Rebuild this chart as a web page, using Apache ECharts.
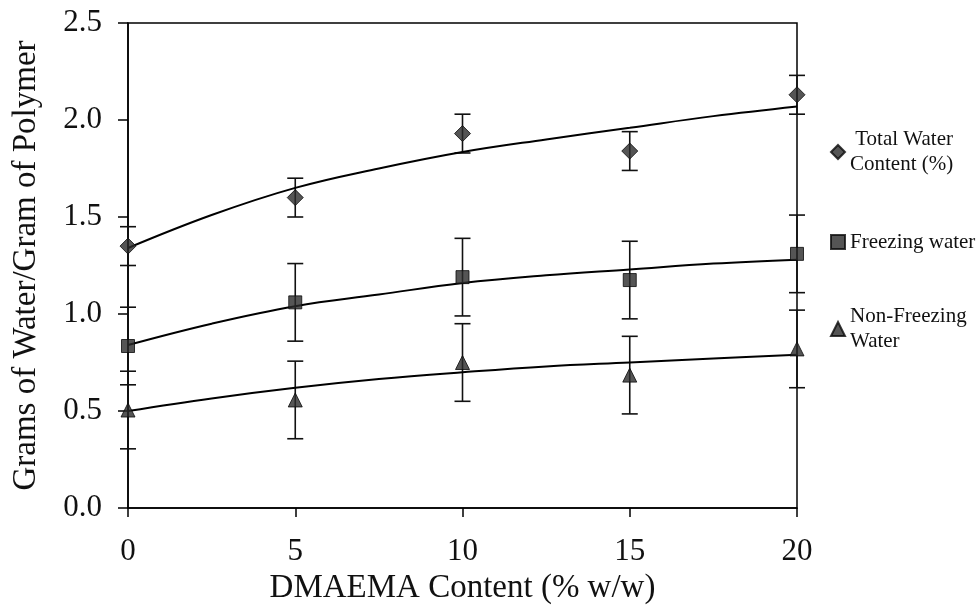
<!DOCTYPE html>
<html>
<head>
<meta charset="utf-8">
<script src="https://cdn.jsdelivr.net/npm/echarts@6/dist/echarts.min.js"></script>
<style>html,body{margin:0;padding:0;background:#fff}#c{width:979px;height:609px}</style>
</head>
<body>
<div id="c"></div>
<script>
// ---- data ----
const xValues = [0, 5, 10, 15, 20];
const totalWater = [1.35, 1.60, 1.93, 1.84, 2.13];
const totalErr = [0.1, 0.1, 0.1, 0.1, 0.1];
const freezingWater = [0.835, 1.06, 1.19, 1.175, 1.31];
const freezingErr = [0.2, 0.2, 0.2, 0.2, 0.2];
const nonFreezingWater = [0.505, 0.557, 0.75, 0.685, 0.82];
const nonFreezingErr = [0.2, 0.2, 0.2, 0.2, 0.2];

// trend lines
const fitX = [0, 2.5, 5, 7.5, 10, 12.5, 15, 17.5, 20];
const totalFit = [1.34, 1.51, 1.65, 1.75, 1.835, 1.90, 1.96, 2.02, 2.07];
const freezingFit = [0.84, 0.95, 1.04, 1.10, 1.16, 1.20, 1.23, 1.26, 1.28];
const nonFreezingFit = [0.50, 0.565, 0.62, 0.665, 0.70, 0.73, 0.75, 0.77, 0.79];

const yTicks = [0, 0.5, 1.0, 1.5, 2.0, 2.5];
const xTicks = [0, 5, 10, 15, 20];

const names = ['Total Water Content (%)', 'Freezing water', 'Non-Freezing Water'];
const legendLabels = [' Total Water\nContent (%)', 'Freezing water', 'Non-Freezing\nWater'];

const FONT = '"Liberation Serif", "DejaVu Serif", serif';
const pairs = (xs, ys) => xs.map((x, i) => [x, ys[i]]);
const errTriples = (xs, ys, es) => xs.map((x, i) => [x, ys[i], es[i]]);

function errRender(params, api) {
  const x = api.value(0), y = api.value(1), e = api.value(2);
  const t = api.coord([x, y + e]);
  const b = api.coord([x, y - e]);
  const hw = 8;
  const st = { stroke: '#111', lineWidth: 1.6 };
  return {
    type: 'group',
    children: [
      { type: 'line', shape: { x1: t[0], y1: t[1], x2: b[0], y2: b[1] }, style: st },
      { type: 'line', shape: { x1: t[0] - hw, y1: t[1], x2: t[0] + hw, y2: t[1] }, style: st },
      { type: 'line', shape: { x1: b[0] - hw, y1: b[1], x2: b[0] + hw, y2: b[1] }, style: st }
    ]
  };
}

const markerStyle = { color: '#2b2b2b', borderColor: '#0a0a0a', borderWidth: 1 };

const chart = echarts.init(document.getElementById('c'), null, { renderer: 'canvas' });

function legendFor(i, top) {
  const multi = legendLabels[i].indexOf('\n') >= 0;
  return {
    data: [names[i]],
    left: 830,
    top: top,
    padding: 0,
    itemWidth: 14,
    itemHeight: 14,
    itemGap: 0,
    formatter: () => legendLabels[i],
    textStyle: {
      fontFamily: FONT, fontSize: 21, color: '#111', lineHeight: 25,
      padding: multi ? [25, 0, 0, 0] : 0
    }
  };
}

chart.setOption({
  animation: false,
  backgroundColor: '#fff',
  grid: { left: 128, right: 182, top: 23, bottom: 101, outerBoundsMode: 'none', containLabel: false,
    show: true, borderColor: '#000', borderWidth: 1.5, backgroundColor: 'transparent' },
  legend: [legendFor(0, 114.5), legendFor(1, 229.5), legendFor(2, 291.5)],
  xAxis: {
    type: 'value', min: 0, max: 20, interval: 5,
    name: 'DMAEMA Content (% w/w)', nameLocation: 'middle', nameGap: 60,
    nameTextStyle: { fontFamily: FONT, fontSize: 33, color: '#111' },
    axisLine: { show: true, onZero: false, lineStyle: { color: '#000', width: 1.5 } },
    axisTick: { show: true, inside: false, length: 9, lineStyle: { color: '#000', width: 1.5 } },
    axisLabel: { margin: 28, fontFamily: FONT, fontSize: 31, color: '#111',
      formatter: v => xTicks.indexOf(v) >= 0 ? String(v) : '' },
    splitLine: { show: false }
  },
  yAxis: {
    type: 'value', min: 0, max: 2.5, interval: 0.5,
    name: 'Grams of Water/Gram of Polymer', nameLocation: 'middle', nameGap: 85, nameRotate: 90,
    nameTextStyle: { fontFamily: FONT, fontSize: 33, color: '#111' },
    axisLine: { show: true, onZero: false, lineStyle: { color: '#000', width: 1.5 } },
    axisTick: { show: true, inside: false, length: 10, lineStyle: { color: '#000', width: 1.5 } },
    axisLabel: { margin: 26, fontFamily: FONT, fontSize: 31, color: '#111',
      formatter: v => yTicks.some(t => Math.abs(t - v) < 1e-9) ? v.toFixed(1) : '' },
    splitLine: { show: false }
  },
  series: [
    { type: 'custom', name: 'errTotal', renderItem: errRender, data: errTriples(xValues, totalWater, totalErr), clip: false, z: 2 },
    { type: 'custom', name: 'errFreezing', renderItem: errRender, data: errTriples(xValues, freezingWater, freezingErr), clip: false, z: 2 },
    { type: 'custom', name: 'errNonFreezing', renderItem: errRender, data: errTriples(xValues, nonFreezingWater, nonFreezingErr), clip: false, z: 2 },
    { type: 'line', name: 'fitTotal', data: pairs(fitX, totalFit), smooth: 0.4, symbol: 'none', lineStyle: { color: '#000', width: 2 }, z: 3 },
    { type: 'line', name: 'fitFreezing', data: pairs(fitX, freezingFit), smooth: 0.4, symbol: 'none', lineStyle: { color: '#000', width: 2 }, z: 3 },
    { type: 'line', name: 'fitNonFreezing', data: pairs(fitX, nonFreezingFit), smooth: 0.4, symbol: 'none', lineStyle: { color: '#000', width: 2 }, z: 3 },
    { type: 'scatter', name: names[0], data: pairs(xValues, totalWater), symbol: 'diamond', symbolSize: 16, itemStyle: markerStyle, z: 5 },
    { type: 'scatter', name: names[1], data: pairs(xValues, freezingWater), symbol: 'rect', symbolSize: 13, itemStyle: markerStyle, z: 5 },
    { type: 'scatter', name: names[2], data: pairs(xValues, nonFreezingWater), symbol: 'triangle', symbolSize: 14, itemStyle: markerStyle, z: 5 }
  ]
});
</script>
</body>
</html>
